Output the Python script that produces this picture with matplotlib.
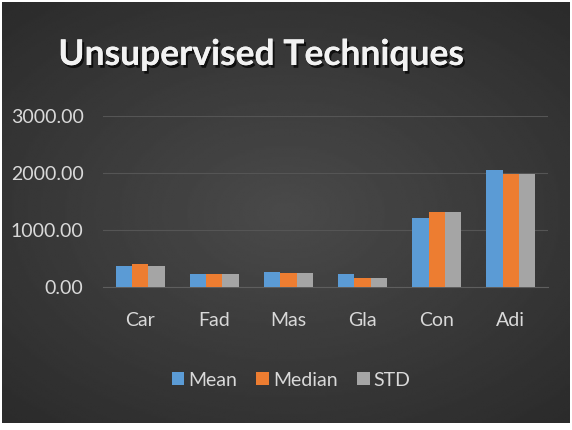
import matplotlib.pyplot as plt
import matplotlib.patheffects as pe
import numpy as np

# chart data
categories = ['Car', 'Fad', 'Mas', 'Gla', 'Con', 'Adi']
mean_vals = [370, 225, 270, 225, 1215, 2060]
median_vals = [400, 225, 240, 165, 1320, 1990]
std_vals = [370, 225, 240, 165, 1320, 1990]
series_names = ['Mean', 'Median', 'STD']
colors = ['#5B9BD5', '#ED7D31', '#A5A5A5']
yticks = [0, 1000, 2000, 3000]

text_col = '#D9D9D9'
plt.rcParams['font.family'] = ['Lato', 'DejaVu Sans']

fig = plt.figure(figsize=(5.72, 4.30), dpi=100, facecolor='white')

# dark radial gradient panel behind everything
bg = fig.add_axes([2 / 572, 7 / 430, 568 / 572, 421 / 430])
yy, xx = np.mgrid[-1:1:200j, -1:1:300j]
r = np.sqrt((xx / 1.1) ** 2 + (yy / 1.0) ** 2)
shade = np.clip(0.29 - 0.09 * r, 0, 1)
bg.imshow(shade, cmap='gray', vmin=0, vmax=1, aspect='auto',
          extent=[0, 1, 0, 1], interpolation='bilinear')
bg.set_axis_off()

ax = fig.add_axes([103 / 572, 1 - 287 / 430, 445 / 572, 171 / 430])
ax.patch.set_alpha(0)

x = np.arange(len(categories))
w = 0.22
for i, (name, vals) in enumerate(zip(series_names, [mean_vals, median_vals, std_vals])):
    ax.bar(x + (i - 1) * w, vals, w, color=colors[i], label=name, zorder=3)

ax.set_xlim(-0.5, len(categories) - 0.5)
ax.set_ylim(0, 3000)
ax.set_yticks(yticks)
ax.set_yticklabels([f'{v:.2f}' for v in yticks])
ax.set_xticks(x)
ax.set_xticklabels(categories)
ax.tick_params(axis='y', length=0, pad=14, labelsize=14, labelcolor=text_col)
ax.tick_params(axis='x', length=0, pad=18, labelsize=14, labelcolor=text_col)
ax.grid(axis='y', color='#555555', linewidth=0.8, zorder=0)
for s in ['top', 'right', 'left']:
    ax.spines[s].set_visible(False)
ax.spines['bottom'].set_color('#5E5E5E')

fig.text(261 / 572, 1 - 55 / 430, 'Unsupervised Techniques', ha='center', va='center',
         fontsize=25.5, fontweight='bold', color='#F2F2F2',
         path_effects=[pe.withSimplePatchShadow(offset=(1.5, -2), shadow_rgbFace='black', alpha=0.7),
                       pe.Normal()])

leg = fig.legend(loc='center', bbox_to_anchor=(291 / 572, 1 - 380 / 430), ncol=3,
                 frameon=False, fontsize=14, labelcolor=text_col,
                 handlelength=0.65, handleheight=0.65, handletextpad=0.2,
                 columnspacing=1.0)

fig.savefig('out.png', dpi=100, facecolor='white')
